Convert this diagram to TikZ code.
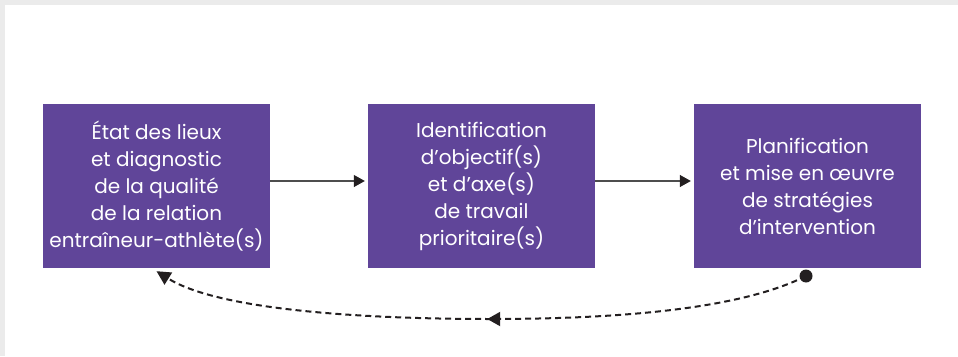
\documentclass[tikz,border=0pt]{standalone}
\usepackage{fontspec}
\setmainfont{Poppins}
\usetikzlibrary{arrows.meta,decorations.markings,calc}

\definecolor{boxpurple}{HTML}{604599}
\definecolor{framegray}{HTML}{EBEBEB}
\definecolor{inkdark}{HTML}{231F20}
\definecolor{linegray}{HTML}{4D4D4D}

\begin{document}
\begin{tikzpicture}[x=1pt,y=-1pt,
  stagebox/.style={fill=boxpurple, minimum width=227pt, minimum height=164pt,
    inner sep=0pt, text=white, align=center,
    font=\fontsize{20}{27}\selectfont},
  flow/.style={draw=linegray, line width=1.1pt, shorten >=3pt,
    -{Triangle[length=11pt,width=12pt,color=inkdark]}},
  loopback/.style={draw=inkdark, line width=2pt, dash pattern=on 6pt off 4pt,
    -{Triangle[length=14pt,width=14pt]},
    postaction={decorate},
    decoration={markings,
      mark=at position 0.49 with {\arrow{Triangle[length=13pt,width=14pt]}}}},
  startdot/.style={circle, fill=inkdark, minimum size=13pt, inner sep=0pt}]

  % page background and frame bands
  \fill[white] (0,0) rectangle (958,356);
  \fill[framegray] (0,0) rectangle (958,5);
  \fill[framegray] (0,0) rectangle (5,356);
  \useasboundingbox (0,0) rectangle (958,356);

  % the three stages
  \node[stagebox] (b1) at (156.5,186) {État des lieux\\et diagnostic\\de la qualité\\de la relation\\entraîneur-athlète(s)};
  \node[stagebox] (b2) at (481.5,186) {Identification\\d’objectif(s)\\et d’axe(s)\\de travail\\prioritaire(s)};
  \node[stagebox] (b3) at (807.5,186) {Planification\\et mise en œuvre\\de stratégies\\d’intervention};

  % forward flow
  \draw[flow] ([yshift=5pt]b1.east) -- ([yshift=5pt]b2.west);
  \draw[flow] ([yshift=5pt]b2.east) -- ([yshift=5pt]b3.west);

  % feedback loop back to the first stage
  \node[startdot] (dot) at (806,276) {};
  \coordinate (back) at ([yshift=-3pt]b1.south);
  \draw[loopback] (dot.center) .. controls (735,312) and (600,319) .. (490,319)
    .. controls (370,319) and (220,311) .. (back);
\end{tikzpicture}
\end{document}
